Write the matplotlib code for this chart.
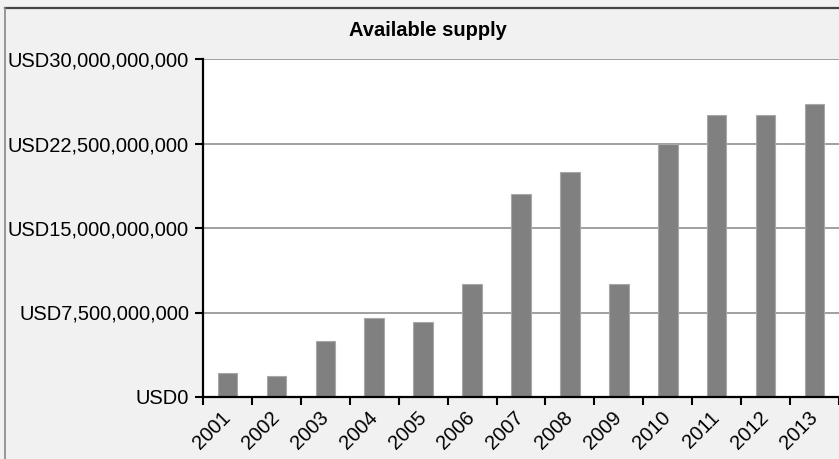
import matplotlib
matplotlib.use("Agg")
import matplotlib.pyplot as plt
from matplotlib.lines import Line2D
from matplotlib.ticker import FuncFormatter, FixedLocator

plt.rcParams['font.family'] = ['Liberation Sans', 'DejaVu Sans']

years = ['2001', '2002', '2003', '2004', '2005', '2006', '2007',
         '2008', '2009', '2010', '2011', '2012', '2013']
supply = [2.1e9, 1.9e9, 5.0e9, 7.0e9, 6.7e9, 10.0e9, 18.0e9,
          20.0e9, 10.0e9, 22.5e9, 25.0e9, 25.0e9, 26.0e9]
yticks = [0, 7.5e9, 15e9, 22.5e9, 30e9]
title = 'Available supply'

W, H = 839, 459
fig = plt.figure(figsize=(W / 100, H / 100), dpi=100)
fig.patch.set_facecolor('#f1f1f1')

ax = fig.add_axes([203 / W, (H - 397) / H, (W - 203) / W, 338 / H])
ax.set_facecolor('white')

x = list(range(len(years)))
ax.bar(x, supply, width=0.4, color='#808080', edgecolor='#a8a8a8',
       linewidth=0.8, zorder=3)

ax.set_xlim(-0.5, 12.22)
ax.set_ylim(0, 30e9)

ax.yaxis.set_major_locator(FixedLocator(yticks))
ax.yaxis.set_major_formatter(FuncFormatter(lambda v, p: 'USD{:,.0f}'.format(v)))
ax.grid(axis='y', color='#999999', linewidth=1.3, zorder=1)
ax.set_axisbelow(True)

ax.set_xticks(x)
ax.set_xticklabels(years, rotation=45, ha='right', va='center',
                   rotation_mode='anchor')
ax.set_xticks([i - 0.5 for i in range(len(years) + 1)], minor=True)
ax.tick_params(axis='x', which='major', length=0, pad=13, labelsize=14.5)
ax.tick_params(axis='x', which='minor', length=6, width=1.5, color='black',
               direction='out')
ax.tick_params(axis='y', length=6, width=1.5, color='black', pad=4,
               labelsize=14.5)

for s in ['top', 'right']:
    ax.spines[s].set_visible(False)
for s in ['left', 'bottom']:
    ax.spines[s].set_linewidth(1.6)
    ax.spines[s].set_color('black')
    ax.spines[s].set_zorder(4)

fig.text(428 / W, (H - 30) / H, title, ha='center', va='center',
         fontsize=14.5, fontweight='bold')

# outer border lines
fig.add_artist(Line2D([4.5 / W, 1], [(H - 7.5) / H, (H - 7.5) / H],
                      color='#444444', linewidth=1.6,
                      transform=fig.transFigure))
fig.add_artist(Line2D([4.5 / W, 4.5 / W], [0, (H - 7.5) / H],
                      color='#888888', linewidth=1.2,
                      transform=fig.transFigure))

fig.savefig('out.png', dpi=100, facecolor=fig.get_facecolor())
